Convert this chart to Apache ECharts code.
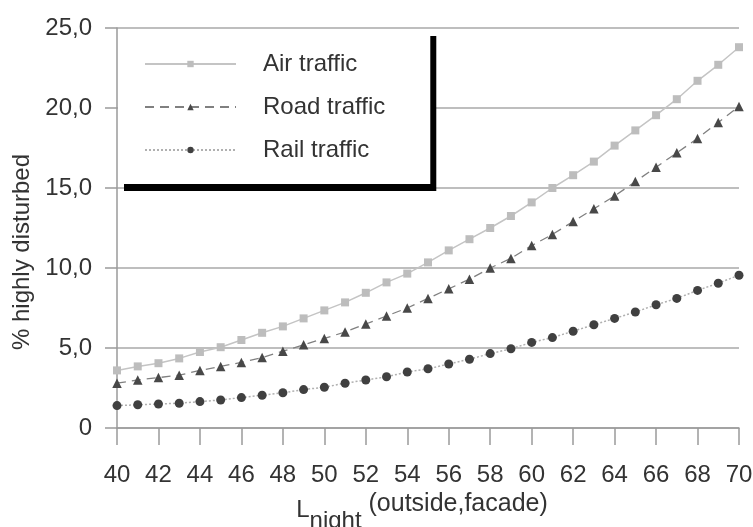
<!DOCTYPE html>
<html>
<head>
<meta charset="utf-8">
<script src="https://cdn.jsdelivr.net/npm/echarts@6/dist/echarts.min.js"></script>
<style>
  html, body { margin: 0; padding: 0; background: #fff; }
  #chart { width: 753px; height: 527px; }
</style>
</head>
<body>
<div id="chart"></div>
<script>
// Lnight values (dB), one point per integer
const lnight = [40, 41, 42, 43, 44, 45, 46, 47, 48, 49, 50, 51, 52, 53, 54, 55,
  56, 57, 58, 59, 60, 61, 62, 63, 64, 65, 66, 67, 68, 69, 70]

// % highly disturbed
const airTraffic = [3.6, 3.85, 4.05, 4.35, 4.75, 5.05, 5.5, 5.95, 6.35, 6.85, 7.35,
  7.85, 8.45, 9.1, 9.65, 10.35, 11.1, 11.8, 12.5, 13.25, 14.1, 15.0, 15.8, 16.65,
  17.65, 18.6, 19.55, 20.55, 21.7, 22.7, 23.8]
const roadTraffic = [2.8, 3.0, 3.15, 3.3, 3.6, 3.85, 4.1, 4.4, 4.8, 5.2, 5.6,
  6.0, 6.5, 7.0, 7.5, 8.1, 8.7, 9.3, 10.0, 10.6, 11.4, 12.1, 12.9, 13.7,
  14.5, 15.4, 16.3, 17.2, 18.1, 19.1, 20.1]
const railTraffic = [1.4, 1.45, 1.5, 1.55, 1.65, 1.75, 1.9, 2.05, 2.2, 2.4, 2.55,
  2.8, 3.0, 3.2, 3.5, 3.7, 4.0, 4.3, 4.65, 4.95, 5.35, 5.65, 6.05, 6.45,
  6.85, 7.25, 7.7, 8.1, 8.6, 9.05, 9.55]

// Tick labels
const yTickLabels = ['0', '5,0', '10,0', '15,0', '20,0', '25,0']

const FONT = '"Liberation Sans", Arial, sans-serif'

function pairs(ys) {
  return lnight.map((x, i) => [x, ys[i]])
}

const chart = echarts.init(document.getElementById('chart'), null, { renderer: 'canvas' })

chart.setOption({
  animation: false,
  backgroundColor: '#fff',
  textStyle: { fontFamily: FONT },
  grid: { left: 117, right: 14, top: 28, bottom: 99, containLabel: false, outerBoundsMode: 'none' },
  legend: {
    orient: 'vertical',
    left: 118,
    top: 29,
    itemWidth: 91,
    itemHeight: 8,
    itemGap: 19,
    padding: [23, 45, 22, 26],
    backgroundColor: '#fff',
    borderWidth: 0,
    // hard black drop shadow on the right and bottom
    shadowColor: '#000',
    shadowBlur: 0,
    shadowOffsetX: 6,
    shadowOffsetY: 7,
    textStyle: {
      fontFamily: FONT,
      fontSize: 24,
      color: '#333',
      padding: [0, 0, 0, 22]
    },
    data: ['Air traffic', 'Road traffic', 'Rail traffic']
  },
  xAxis: {
    type: 'value',
    min: 40,
    max: 70,
    interval: 2,
    name: '{l|L}{sub|night}{rest| (outside,facade)}',
    nameLocation: 'middle',
    nameGap: 53,
    nameTextStyle: {
      padding: [0, 12, 0, 0],
      rich: {
        l: { fontFamily: FONT, fontSize: 24, color: '#333', verticalAlign: 'bottom', padding: [0, 0, 11, 0] },
        sub: { fontFamily: FONT, fontSize: 24, color: '#333', verticalAlign: 'bottom', padding: [0, 0, 0, 0] },
        rest: { fontFamily: FONT, fontSize: 25, color: '#333', verticalAlign: 'bottom', padding: [0, 0, 16, 0] }
      }
    },
    axisLine: { show: true, lineStyle: { color: '#9a9a9a', width: 1.5 } },
    axisTick: { show: true, length: 17, lineStyle: { color: '#9a9a9a', width: 1.5 } },
    axisLabel: { fontFamily: FONT, fontSize: 24, color: '#333', margin: 35 },
    splitLine: { show: false }
  },
  yAxis: {
    type: 'value',
    min: 0,
    max: 25,
    interval: 5,
    name: '% highly disturbed',
    nameLocation: 'middle',
    nameGap: 76,
    nameTextStyle: { fontFamily: FONT, fontSize: 24, color: '#333', padding: [0, 48, 0, 0] },
    axisLine: { show: true, lineStyle: { color: '#9a9a9a', width: 1.5 } },
    axisTick: { show: true, length: 12, lineStyle: { color: '#9a9a9a', width: 1.5 } },
    axisLabel: {
      fontFamily: FONT,
      fontSize: 24,
      color: '#333',
      margin: 25,
      formatter: (v) => yTickLabels[Math.round(v / 5)]
    },
    splitLine: { show: true, lineStyle: { color: '#a8a8a8', width: 1.5 } }
  },
  series: [
    {
      name: 'Air traffic',
      type: 'line',
      data: pairs(airTraffic),
      symbol: 'rect',
      symbolSize: 8,
      itemStyle: { color: '#bdbdbd' },
      lineStyle: { color: '#c4c4c4', width: 1.5, type: 'solid' },
      z: 3
    },
    {
      name: 'Road traffic',
      type: 'line',
      data: pairs(roadTraffic),
      symbol: 'triangle',
      symbolSize: 9.5,
      itemStyle: { color: '#484848' },
      lineStyle: { color: '#808080', width: 1.3, type: [9, 6] },
      z: 3
    },
    {
      name: 'Rail traffic',
      type: 'line',
      data: pairs(railTraffic),
      symbol: 'circle',
      symbolSize: 9,
      itemStyle: { color: '#404040' },
      lineStyle: { color: '#b0b0b0', width: 1.5, type: [2, 2] },
      z: 3
    }
  ]
})
</script>
</body>
</html>
